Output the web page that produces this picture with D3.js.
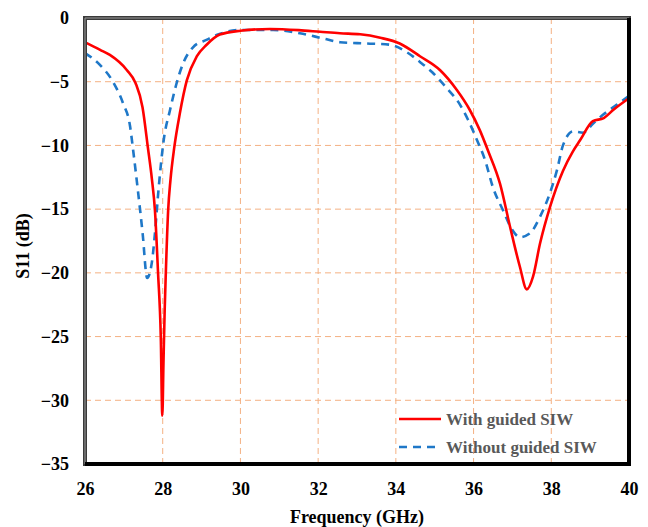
<!DOCTYPE html>
<html>
<head>
<meta charset="utf-8">
<script src="https://cdn.jsdelivr.net/npm/d3@7"></script>
<style>
  html, body { margin: 0; padding: 0; background: #fff; }
  svg { display: block; }
  text { font-family: "Liberation Serif", "Times New Roman", serif; font-weight: bold; }
</style>
</head>
<body>
<svg id="chart" width="648" height="527"></svg>
<script>
// ========= Data =========
const xTicks = [26, 28, 30, 32, 34, 36, 38, 40];
const yTicks = [0, -5, -10, -15, -20, -25, -30, -35];

const seriesNames = ["With guided SIW", "Without guided SIW"];

// With guided SIW
const freqWith = [26.0, 26.39, 26.64, 27.08, 27.3, 27.48, 27.62, 27.72, 27.8, 27.88, 27.95, 27.99,
  28.02, 28.05, 28.08, 28.14, 28.2, 28.3, 28.44, 28.62, 28.88, 29.13, 29.47, 30.0, 30.76,
  31.5, 32.05, 32.56, 33.08, 33.6, 34.1, 34.62, 35.14, 35.57, 35.9, 36.16, 36.37, 36.68, 36.94,
  37.19, 37.37, 37.53, 37.71, 37.97, 38.3, 38.55, 38.74, 39.07, 39.35, 39.6, 40.0];
const s11With = [-1.9, -2.5, -2.9, -4.1, -5.1, -7.0, -10.2, -12.6, -15.1, -20, -25, -31.2,
  -27, -23, -20, -15.1, -12.7, -10.1, -7.5, -4.9, -3.0, -2.1, -1.3, -1.0, -0.86,
  -0.95, -1.08, -1.2, -1.28, -1.55, -2.0, -3.0, -4.1, -5.65, -7.2, -8.8, -10.4, -13.0, -16.4,
  -19.5, -21.3, -20.3, -17.7, -14.8, -12.0, -10.5, -9.6, -8.1, -7.85, -7.2, -6.3];

// Without guided SIW
const freqWithout = [26.0, 26.39, 26.72, 26.98, 27.16, 27.24, 27.36, 27.48, 27.6, 27.72,
  27.8, 27.88, 27.95, 28.02, 28.19, 28.35, 28.52, 28.78, 29.14, 29.42, 30.0, 30.84, 31.53, 32.12,
  32.56, 33.26, 33.85, 34.29, 34.62, 34.95, 35.31, 35.65, 35.86, 36.09, 36.29, 36.5, 36.76, 36.99,
  37.19, 37.45, 37.71, 37.97, 38.15, 38.3, 38.56, 38.82, 39.07, 39.33, 39.69, 40.0];
const s11Without = [-2.75, -3.7, -5.0, -6.7, -8.5, -10.4, -13.5, -16.8, -20.4, -19.2,
  -16.9, -13.9, -11.6, -9.7, -7.2, -5.2, -3.6, -2.3, -1.7, -1.3, -0.94, -0.94, -1.2, -1.6,
  -1.9, -2.0, -2.1, -2.7, -3.45, -4.3, -5.5, -6.8, -8.0, -9.6, -11.1, -13.3, -15.1, -16.6,
  -17.2, -16.9, -15.6, -13.7, -11.9, -10.0, -8.9, -9.0, -8.3, -7.6, -6.8, -6.1];

// ========= Layout =========
const svg = d3.select("#chart");
const margin = { top: 18, right: 19, bottom: 63, left: 85 };
const width = 648, height = 527;
const innerW = width - margin.left - margin.right;
const innerH = height - margin.top - margin.bottom;

const x = d3.scaleLinear().domain([26, 40]).range([0, innerW]);
const y = d3.scaleLinear().domain([-35, 0]).range([innerH, 0]);

const g = svg.append("g")
  .attr("transform", `translate(${margin.left},${margin.top})`);

// grid
const gridColor = "#f4b183";
g.append("g")
  .selectAll("line")
  .data(xTicks.slice(1, -1))
  .join("line")
  .attr("x1", d => x(d)).attr("x2", d => x(d))
  .attr("y1", 0).attr("y2", innerH)
  .attr("stroke", gridColor).attr("stroke-width", 1)
  .attr("stroke-dasharray", "6,4");

g.append("g")
  .selectAll("line")
  .data(yTicks.slice(1, -1))
  .join("line")
  .attr("y1", d => y(d)).attr("y2", d => y(d))
  .attr("x1", 0).attr("x2", innerW)
  .attr("stroke", gridColor).attr("stroke-width", 1)
  .attr("stroke-dasharray", "6,4");

// axes (labels only)
const xAxis = g.append("g")
  .attr("transform", `translate(0,${innerH})`)
  .call(d3.axisBottom(x).tickValues(xTicks).tickSize(0).tickPadding(18));
xAxis.select(".domain").remove();
xAxis.selectAll("text")
  .attr("font-size", 18)
  .attr("fill", "#000")
  .attr("font-family", "Liberation Serif, serif")
  .attr("font-weight", "bold");

const yAxis = g.append("g")
  .call(d3.axisLeft(y).tickValues(yTicks).tickSize(0).tickPadding(16));
yAxis.select(".domain").remove();
yAxis.selectAll("text")
  .attr("font-size", 18)
  .attr("fill", "#000")
  .attr("font-family", "Liberation Serif, serif")
  .attr("font-weight", "bold");

// lines
const line = d3.line()
  .x(d => x(d[0]))
  .y(d => y(d[1]))
  .curve(d3.curveMonotoneX);

const withData = freqWith.map((f, i) => [f, s11With[i]]);
const withoutData = freqWithout.map((f, i) => [f, s11Without[i]]);

g.append("path")
  .datum(withoutData)
  .attr("d", line)
  .attr("fill", "none")
  .attr("stroke", "#1f78c8")
  .attr("stroke-width", 2.6)
  .attr("stroke-dasharray", "8,6");

g.append("path")
  .datum(withData)
  .attr("d", line)
  .attr("fill", "none")
  .attr("stroke", "#ff0000")
  .attr("stroke-width", 2.6);

// frame
g.append("rect")
  .attr("x", 0).attr("y", 0)
  .attr("width", innerW).attr("height", innerH)
  .attr("fill", "none")
  .attr("stroke", "#3a3a3a")
  .attr("stroke-width", 4);
g.append("path")
  .attr("d", `M0,${innerH} V0 H${innerW}`)
  .attr("fill", "none")
  .attr("stroke", "#9a9a9a")
  .attr("stroke-width", 1);
g.append("path")
  .attr("d", `M0,${innerH} H${innerW} V0`)
  .attr("fill", "none")
  .attr("stroke", "#000")
  .attr("stroke-width", 4);

// legend
const legend = g.append("g").attr("transform", `translate(${399 - margin.left},${419 - margin.top})`);
const legendStyles = [
  { color: "#ff0000", dash: null },
  { color: "#1f78c8", dash: "8,6" }
];
seriesNames.forEach((name, i) => {
  const row = legend.append("g").attr("transform", `translate(0,${i * 28})`);
  row.append("line")
    .attr("x1", 0).attr("x2", 42)
    .attr("y1", 0).attr("y2", 0)
    .attr("stroke", legendStyles[i].color)
    .attr("stroke-width", 2.6)
    .attr("stroke-dasharray", legendStyles[i].dash);
  row.append("text")
    .attr("x", 47).attr("y", 0)
    .attr("dy", "0.35em")
    .attr("font-size", 17)
    .attr("fill", "#595959")
    .text(name);
});

// axis titles
svg.append("text")
  .attr("x", margin.left + innerW / 2)
  .attr("y", 523)
  .attr("text-anchor", "middle")
  .attr("font-size", 18)
  .attr("fill", "#000")
  .text("Frequency (GHz)");

svg.append("text")
  .attr("transform", `translate(29,246) rotate(-90)`)
  .attr("text-anchor", "middle")
  .attr("font-size", 18)
  .attr("fill", "#000")
  .text("S11 (dB)");
</script>
</body>
</html>
